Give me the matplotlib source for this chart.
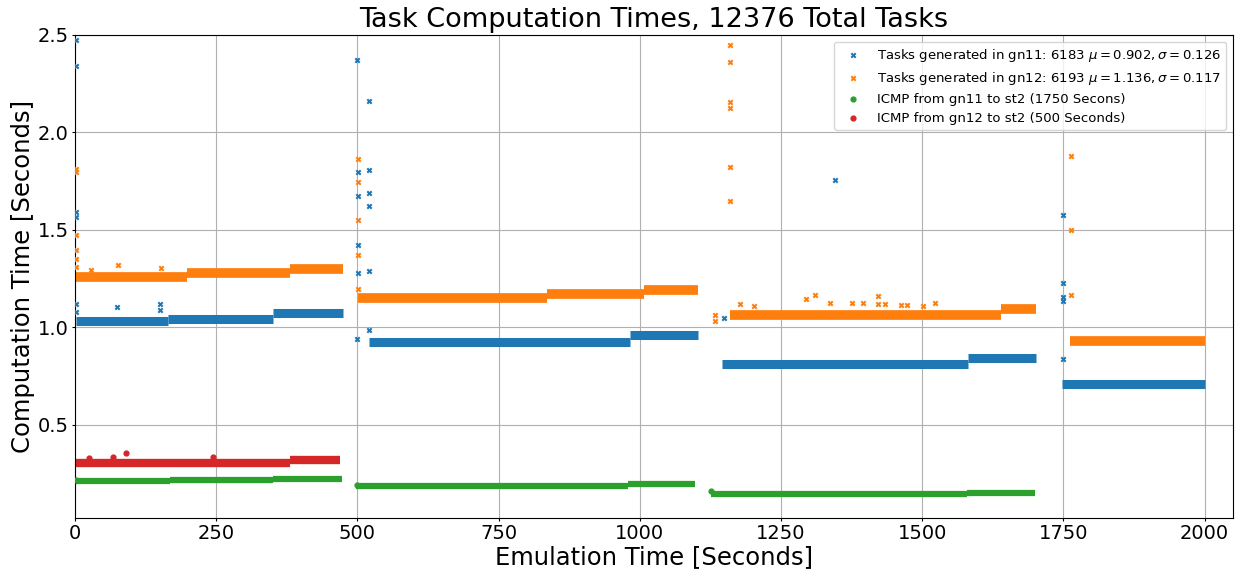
import numpy as np
import matplotlib
matplotlib.use("Agg")
import matplotlib.pyplot as plt

# Level segments of each band: start time, end time, computation time
gn11_start = [2, 165, 351, 521, 982, 1146, 1582, 1748]
gn11_end = [165, 351, 474, 982, 1103, 1582, 1702, 2000]
gn11_level = [1.030, 1.042, 1.072, 0.926, 0.957, 0.813, 0.839, 0.710]

gn12_start = [2, 198, 381, 502, 835, 1008, 1159, 1640, 1762]
gn12_end = [198, 381, 474, 835, 1008, 1103, 1640, 1702, 2000]
gn12_level = [1.256, 1.277, 1.299, 1.152, 1.171, 1.191, 1.062, 1.094, 0.929]

icmp11_start = [2, 168, 351, 497, 979, 1127, 1580]
icmp11_end = [168, 351, 472, 979, 1097, 1580, 1700]
icmp11_level = [0.210, 0.215, 0.222, 0.183, 0.195, 0.141, 0.149]

icmp12_start = [2, 381]
icmp12_end = [381, 469]
icmp12_level = [0.305, 0.317]

# Single points away from the bands
gn11_out_t = [1, 1, 1, 1, 1, 1, 74, 150, 150,
              500, 521, 501, 521, 501, 521, 521, 501, 501, 521, 521, 500,
              1150, 1346, 1750, 1750, 1750, 1750, 1750]
gn11_out_v = [2.474, 2.338, 1.590, 1.565, 1.121, 1.079, 1.104, 1.121, 1.087,
              2.370, 2.160, 1.794, 1.805, 1.672, 1.689, 1.621, 1.420, 1.280, 1.287, 0.985, 0.937,
              1.049, 1.756, 1.575, 1.228, 1.156, 1.136, 0.837]

gn12_out_t = [1, 1, 1, 1, 1, 1, 29, 76, 152,
              502, 502, 502, 502, 502, 1133, 1133,
              1160, 1160, 1160, 1160, 1160, 1160,
              1178, 1203, 1294, 1311, 1336, 1375, 1396, 1422, 1422, 1434, 1462, 1474, 1502, 1523,
              1763, 1763, 1763]
gn12_out_v = [1.812, 1.795, 1.471, 1.394, 1.352, 1.309, 1.295, 1.321, 1.305,
              1.863, 1.746, 1.549, 1.369, 1.198, 1.061, 1.032,
              2.449, 2.363, 2.157, 2.125, 1.824, 1.650,
              1.119, 1.111, 1.142, 1.164, 1.125, 1.125, 1.125, 1.160, 1.119, 1.119, 1.114, 1.114, 1.108, 1.125,
              1.879, 1.498, 1.165]

icmp11_out_t = [2, 499, 1127]
icmp11_out_v = [0.214, 0.189, 0.158]

icmp12_out_t = [24, 68, 91, 244]
icmp12_out_v = [0.326, 0.331, 0.355, 0.334]

labels = ["Tasks generated in gn11: 6183 $\\mu = 0.902, \\sigma = 0.126$",
          "Tasks generated in gn12: 6193 $\\mu = 1.136, \\sigma = 0.117$",
          "ICMP from gn11 to st2 (1750 Secons)",
          "ICMP from gn12 to st2 (500 Seconds)"]

blue, orange, green, red = "#1f77b4", "#ff7f0e", "#2ca02c", "#d62728"

fig = plt.figure(figsize=(12.37, 5.69), dpi=100)
ax = fig.add_axes([0.0606, 0.0896, 0.936, 0.849])

# Bands
def bands(start, end, level, color, lw):
    for s, e, v in zip(start, end, level):
        ax.plot([s, e], [v, v], color=color, linewidth=lw, solid_capstyle="butt", zorder=2)

bands(gn11_start, gn11_end, gn11_level, blue, 6.5)
bands(gn12_start, gn12_end, gn12_level, orange, 7)
bands(icmp11_start, icmp11_end, icmp11_level, green, 4.5)
bands(icmp12_start, icmp12_end, icmp12_level, red, 6)

ax.scatter(gn11_out_t, gn11_out_v, marker="x", s=10, color=blue, label=labels[0], zorder=3)
ax.scatter(gn12_out_t, gn12_out_v, marker="x", s=10, color=orange, label=labels[1], zorder=3)
ax.scatter(icmp11_out_t, icmp11_out_v, marker="o", s=12, color=green, label=labels[2], zorder=3)
ax.scatter(icmp12_out_t, icmp12_out_v, marker="o", s=12, color=red, label=labels[3], zorder=3)

ax.set_xlim(0, 2050)
ax.set_ylim(0.02, 2.5)
ax.set_xticks([0, 250, 500, 750, 1000, 1250, 1500, 1750, 2000])
ax.set_yticks([0.5, 1.0, 1.5, 2.0, 2.5])
ax.tick_params(labelsize=14, length=2.5, pad=2)
ax.grid(True)
ax.set_axisbelow(True)

ax.set_title("Task Computation Times, 12376 Total Tasks", fontsize=19.5)
ax.set_xlabel("Emulation Time [Seconds]", fontsize=17.5, labelpad=1)
ax.set_ylabel("Computation Time [Seconds]", fontsize=17.5, labelpad=2)
ax.legend(loc="upper right", fontsize=9.5, labelspacing=0.45)

fig.savefig("out.png", dpi=100)
